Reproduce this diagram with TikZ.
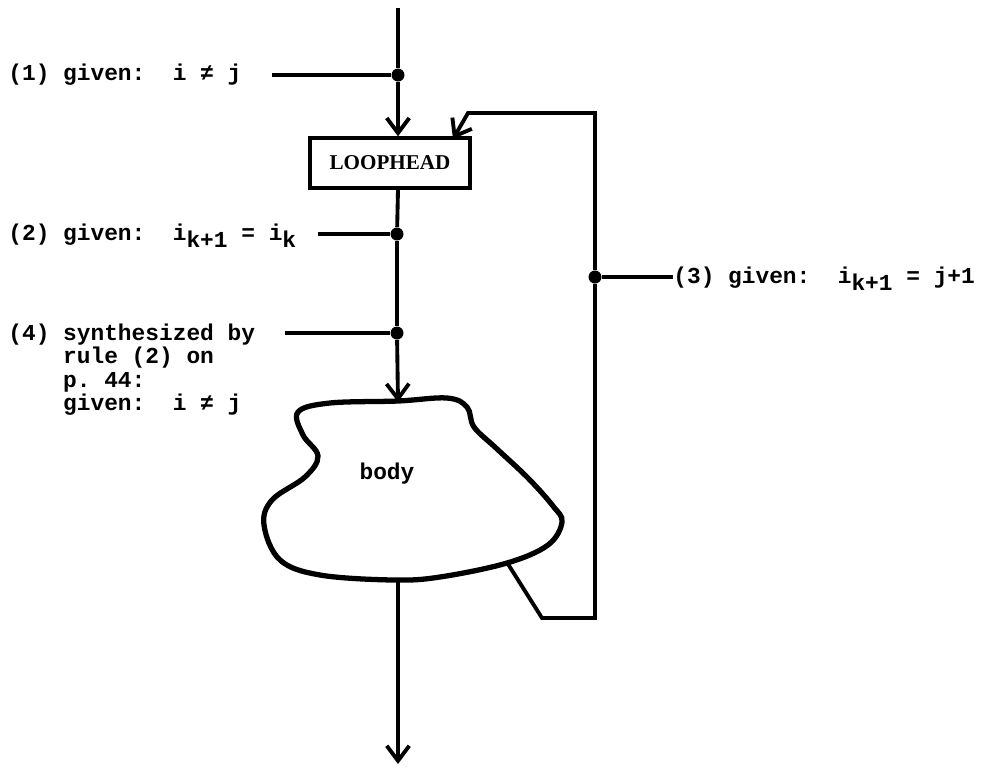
\documentclass[tikz,border=0pt]{standalone}
\usepackage{fontspec}
\setmainfont{Liberation Serif}
\setmonofont{Liberation Mono}
\usetikzlibrary{arrows.meta}
\tikzset{
  wire/.style={line width=2.2pt},
  arr/.style={wire,-{Straight Barb[length=3mm,width=4.5mm,line width=2.2pt]}},
  dot/.style={circle,fill=black,inner sep=0pt,minimum size=0.26cm},
  lbl/.style={inner sep=0pt,font=\ttfamily\bfseries\fontsize{13}{11}\selectfont,align=left},
  boxst/.style={draw,line width=2pt,minimum width=3.2cm,minimum height=1cm,inner sep=0pt,font=\rmfamily\bfseries\fontsize{12}{14}\selectfont}
}
\newcommand{\sbs}[1]{\raisebox{-0.6ex}{#1}}
\begin{document}
\begin{tikzpicture}[x=0.02cm,y=-0.02cm]
\useasboundingbox (0,0) rectangle (995,769);
% box
\node[boxst] (lh) at (390,163) {LOOPHEAD};
% junctions and coordinates
\coordinate (top) at (398,8);
\node[dot] (d1) at (398,75) {};
\node[dot] (d2) at (397,234) {};
\node[dot] (d4) at (397,333) {};
\node[dot] (d3) at (595,277) {};
\coordinate (btop) at (398,402);
\coordinate (bbot) at (398,580);
\coordinate (endp) at (398,764);
\coordinate (bout) at (508,564);
\coordinate (c1) at (542,618);
\coordinate (c2) at (595,618);
\coordinate (c3) at (595,113);
\coordinate (c4) at (468,113);
\coordinate (lhin) at (453,139);
\coordinate (l1e) at (272,75);
\coordinate (l2e) at (318,234);
\coordinate (l4e) at (285,333);
% labels
\node[lbl,anchor=west] (l1) at (8,75) {(1) given:~~i ≠ j};
\node[lbl,anchor=west] (l2) at (8,236) {(2) given:~~i\sbs{k+1} = i\sbs{k}};
\node[lbl,anchor=north west] (l4) at (8,324) {(4) synthesized by\\\phantom{(4) }rule (2) on\\\phantom{(4) }p. 44:\\\phantom{(4) }given:~~i ≠ j};
\node[lbl,anchor=west] (l3) at (673,279) {(3) given:~~i\sbs{k+1} = j+1};
% body blob
\draw[line width=3pt] plot[smooth cycle,tension=0.6] coordinates {
 (398,401) (447,398) (467,407) (474,427) (496,448) (528,478) (553,506)
 (562,522) (548,545) (507,563) (440,577) (393,580) (320,575) (280,560)
 (264,525) (272,500) (305,477) (318,456) (303,435) (298,412) (330,403)};
\node[font=\ttfamily\bfseries\fontsize{13}{14}\selectfont] (body) at (387,474) {body};
% connectors
\draw[wire] (top) -- (d1);
\draw[arr] (d1) -- (lh.north -| top);
\draw[wire] (l1e) -- (d1);
\draw[wire] (lh.south -| top) -- (d2);
\draw[wire] (d2) -- (d4);
\draw[arr] (d4) -- (btop);
\draw[wire] (l2e) -- (d2);
\draw[wire] (l4e) -- (d4);
\draw[wire] (d3) -- (d3 -| l3.west);
\draw[arr] (bbot) -- (endp);
\draw[wire] (bout) -- (c1) -- (c2) -- (d3);
\draw[arr] (d3) -- (c3) -- (c4) -- (lhin);
\end{tikzpicture}
\end{document}
